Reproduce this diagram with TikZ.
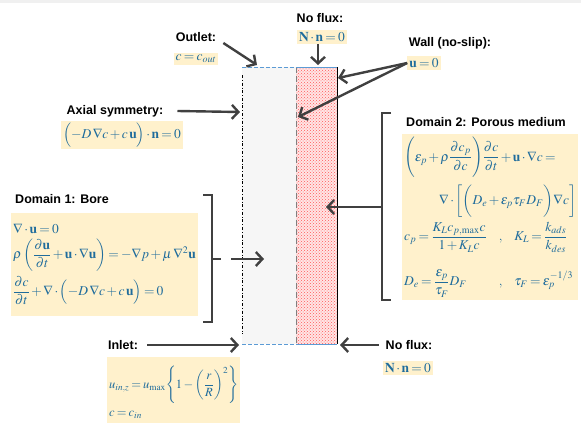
\documentclass[tikz,border=0pt]{standalone}
\usepackage{amsmath}
\usepackage{mathptmx}
\usepackage{fontspec}
\usetikzlibrary{arrows.meta,patterns}
\newfontfamily\lblfont{Liberation Sans}
\definecolor{eqBlue}{RGB}{31,108,156}
\definecolor{eqYellow}{RGB}{255,241,204}
\definecolor{arrowGray}{RGB}{64,64,64}
\definecolor{edgeBlue}{RGB}{91,155,213}
\definecolor{boreGray}{RGB}{246,246,246}
\definecolor{stripGray}{RGB}{240,240,240}
\thickmuskip=3mu plus 2mu
\medmuskip=2mu plus 1mu
\thinmuskip=2mu

\begin{document}
\begin{tikzpicture}[x=1pt,y=-1pt,
    bcLabel/.style={font=\lblfont\bfseries\fontsize{12.5}{15}\selectfont, inner sep=0pt},
    bcEq/.style={fill=eqYellow, text=eqBlue, font=\fontsize{13.5}{16}\selectfont, inner sep=2pt},
    bcArrow/.style={draw=arrowGray, line width=2.4pt, -{Straight Barb[length=6.5pt,width=14pt]}},
    bcBrace/.style={draw=arrowGray, line width=1.2pt},
]
\useasboundingbox (0,0) rectangle (581,423);
\fill[stripGray] (0,0) rectangle (581,3);

% Geometry: bore and porous wall
\coordinate (boreTL) at (242,67);
\coordinate (boreBL) at (242,344);
\coordinate (wallTL) at (296,67);
\coordinate (wallBL) at (296,344);
\coordinate (wallTR) at (337,67);
\coordinate (wallBR) at (337,344);
\fill[boreGray] (boreTL) rectangle (wallBL);
\fill[red!10] (wallTL) rectangle (wallBR);
\fill[pattern=crosshatch dots, pattern color=red!65] (wallTL) rectangle (wallBR);
\draw[black, line width=0.6pt, dash dot] ([yshift=-8]boreTL) -- ([yshift=10]boreBL);
\draw[gray, line width=0.9pt, dash pattern=on 6pt off 3pt] (wallTL) -- (wallBL);
\draw[black, line width=1pt] (wallTR) -- (wallBR);
\draw[edgeBlue, line width=1pt, dash pattern=on 4pt off 2pt] (boreTL) -- (wallTL);
\draw[edgeBlue, line width=1pt, dash pattern=on 4pt off 2pt] (boreBL) -- (wallBL);
\draw[edgeBlue, line width=1pt] (wallTL) -- (wallTR);
\draw[edgeBlue, line width=1pt] (wallBL) -- (wallBR);

% Outlet
\node[bcLabel] (outletLbl) at (196,37) {Outlet:};
\node[bcEq] (outletEq) at (196,59) {$c=c_{out}$};
\coordinate (outletPt) at (257,65);
\draw[bcArrow] ([shift={(7,6)}]outletLbl.east) -- (outletPt);

% No flux (top)
\node[bcLabel] (topLbl) at (320,18) {No flux:};
\node[bcEq] (topEq) at (322,37) {$\mathbf{N}\cdot\mathbf{n}=0$};
\coordinate (topPt) at (318,65);
\draw[bcArrow] (topEq.south -| topPt) -- (topPt);

% Wall
\node[bcLabel] (wallLbl) at (450,43) {Wall (no-slip):};
\node[bcEq] (wallEq) at (424,63) {$\mathbf{u}=0$};
\coordinate (wallPtA) at (338,78);
\coordinate (wallPtB) at (298,117);
\draw[bcArrow] (wallEq.west) -- (wallPtA);
\draw[bcArrow] (wallEq.west) -- (wallPtB);

% Axial symmetry
\node[bcLabel] (axisLbl) at (115,111) {Axial symmetry:};
\node[bcEq] (axisEq) at (122,135) {$\Bigl(-D\,\nabla c+c\,\mathbf{u}\Bigr)\cdot\mathbf{n}=0$};
\coordinate (axisPt) at (240,112);
\draw[bcArrow] ([xshift=14]axisLbl.east) -- (axisPt);

% Domain 1: bore
\node[bcLabel] (boreLbl) at (62,199) {Domain 1: Bore};
\node[bcEq, anchor=north west, minimum width=183pt, minimum height=103pt, align=left] (boreEq) at (11,213) {
$\nabla\cdot\mathbf{u}=0$\\[4pt]
$\rho\left(\dfrac{\partial\mathbf{u}}{\partial t}+\mathbf{u}\cdot\nabla\mathbf{u}\right)=-\nabla p+\mu\,\nabla^2\mathbf{u}$\\[4pt]
$\dfrac{\partial c}{\partial t}+\nabla\cdot\Bigl(-D\,\nabla c+c\,\mathbf{u}\Bigr)=0$
};
\coordinate (boreTip) at (221,259);
\coordinate (borePt) at (264,259);
\draw[bcBrace] (203,195) -- (212,195) -- (212,322) -- (203,322);
\draw[bcBrace] (212,259) -- (boreTip);
\draw[bcArrow] ([xshift=10]boreTip) -- (borePt);

% Domain 2: porous medium
\node[bcLabel] (poreLbl) at (486,122) {Domain 2: Porous medium};
\node[bcEq, anchor=north west, text width=172pt, minimum height=166pt, align=left] (poreEq) at (402,134) {
\mbox{$\Biggl(\varepsilon_p+\rho\dfrac{\partial c_p}{\partial c}\Biggr)\dfrac{\partial c}{\partial t}+\mathbf{u}\cdot\nabla c=$}\\[6pt]
\hfill\mbox{$\nabla\cdot\biggl[\biggl(D_e+\varepsilon_p\tau_F D_F\biggr)\nabla c\biggr]$}\\[4pt]
\begin{tabular}{@{}l@{\hspace{12pt},\hspace{12pt}}l@{}}
$c_p=\dfrac{K_L c_{p,\max}c}{1+K_L c}$ & $K_L=\dfrac{k_{ads}}{k_{des}}$\\[24pt]
$D_e=\dfrac{\varepsilon_p}{\tau_F}D_F$ & $\tau_F=\varepsilon_p^{-1/3}$
\end{tabular}
};
\coordinate (poreTip) at (372,207);
\coordinate (porePt) at (326,207);
\draw[bcBrace] (391,113) -- (382,113) -- (382,300) -- (391,300);
\draw[bcBrace] (382,207) -- (poreTip);
\draw[bcArrow] (poreTip) -- (porePt);

% Inlet
\node[bcLabel] (inletLbl) at (123,345) {Inlet:};
\node[bcEq, anchor=north west, font=\fontsize{12.5}{15}\selectfont, minimum width=131pt, minimum height=70pt, align=left] (inletEq) at (107,357) {
$u_{in,z}=u_{\max}\Biggl\{1-\biggl(\dfrac{r}{R}\biggr)^2\Biggr\}$\\[6pt]
$c=c_{in}$
};
\coordinate (inletPt) at (239,345);
\draw[bcArrow] ([xshift=9]inletLbl.east) -- (inletPt);

% No flux (bottom)
\node[bcLabel] (botLbl) at (409,345) {No flux:};
\node[bcEq] (botEq) at (408,368) {$\mathbf{N}\cdot\mathbf{n}=0$};
\coordinate (botPt) at (340,345);
\draw[bcArrow] ([xshift=-7]botLbl.west) -- (botPt);
\end{tikzpicture}
\end{document}
